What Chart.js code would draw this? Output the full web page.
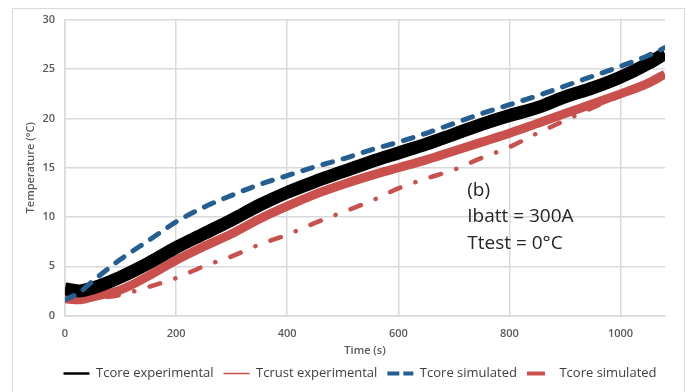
<!DOCTYPE html>
<html lang="en">
<head>
<meta charset="UTF-8">
<title>Core and crust temperature</title>
<script src="https://cdn.jsdelivr.net/npm/chart.js"></script>
<style>
  html, body { margin: 0; padding: 0; background: #fff; }
  #wrap { width: 695px; height: 392px; }
</style>
</head>
<body>
<div id="wrap"><canvas id="tempChart"></canvas></div>
<script>
// time samples (s)
const timeSec = [0, 25, 50, 100, 150, 200, 250, 300, 350, 400, 450, 500, 550, 600, 650, 700, 750, 800, 850, 900, 950, 1000, 1050, 1080];

// temperatures (°C)
const tcoreExp  = [2.7, 2.5, 2.8, 3.9, 5.3, 6.9, 8.3, 9.7, 11.2, 12.5, 13.6, 14.6, 15.6, 16.5, 17.4, 18.4, 19.4, 20.3, 21.1, 22.2, 23.1, 24.2, 25.6, 26.6];
const tcrustExp = [1.7, 1.6, 1.9, 2.6, 4.0, 5.6, 7.0, 8.3, 9.8, 11.1, 12.3, 13.3, 14.2, 15.0, 15.8, 16.7, 17.6, 18.5, 19.5, 20.5, 21.5, 22.5, 23.6, 24.5];
const tcoreSim  = [1.6, 2.3, 3.5, 5.7, 7.6, 9.5, 11.0, 12.2, 13.3, 14.2, 15.1, 15.9, 16.8, 17.6, 18.5, 19.5, 20.5, 21.4, 22.3, 23.3, 24.3, 25.3, 26.4, 27.2];
const tcrustSim = [1.5, 1.5, 1.7, 2.1, 2.9, 3.8, 5.0, 6.0, 7.2, 8.2, 9.4, 10.5, 11.6, 12.9, 13.9, 14.8, 16.0, 17.1, 18.5, 19.8, 21.1, 22.3, 23.5, 24.3];

const seriesNames = ['Tcore experimental', 'Tcrust experimental', 'Tcore simulated', 'Tcore simulated'];
const noteLines = ['(b)', 'Ibatt = 300A', 'Ttest = 0°C'];

const pts = vals => vals.map((v, i) => ({ x: timeSec[i], y: v }));

const FONT = "'Open Sans', 'Liberation Sans', sans-serif";
const blue = '#255e91';
const red = '#c9504c';

// legend swatches
const legendStyles = [
  { strokeStyle: '#000000', lineWidth: 2.5, lineDash: [] },
  { strokeStyle: red, lineWidth: 1.6, lineDash: [] },
  { strokeStyle: blue, lineWidth: 4, lineDash: [12, 4] },
  { strokeStyle: red, lineWidth: 4, lineDash: [18, 10] }
];

// white page with thin grey frame
const framePlugin = {
  id: 'frame',
  beforeDraw(chart) {
    const ctx = chart.ctx;
    ctx.save();
    ctx.fillStyle = '#ffffff';
    ctx.fillRect(0, 0, chart.width, chart.height);
    ctx.strokeStyle = '#d9d9d9';
    ctx.lineWidth = 1;
    ctx.strokeRect(12.5, 8.5, 672, 400);
    ctx.restore();
  }
};

// center the legend under the plot area rather than the whole canvas
const legendShift = {
  id: 'legendShift',
  afterLayout(chart) {
    const lg = chart.legend;
    if (!lg) return;
    const mid = (chart.chartArea.left + chart.chartArea.right) / 2 - 5;
    const dx = mid - (lg.left + lg.right) / 2;
    lg.left += dx;
    lg.right += dx;
  }
};

// test conditions text inside the plot
const notePlugin = {
  id: 'note',
  afterDatasetsDraw(chart) {
    const ctx = chart.ctx;
    const xs = chart.scales.x, ys = chart.scales.y;
    const x0 = xs.getPixelForValue(724);
    const yVals = [12.7, 10.0, 7.25];
    ctx.save();
    ctx.fillStyle = '#262626';
    ctx.font = '19px ' + FONT;
    ctx.textBaseline = 'middle';
    noteLines.forEach((t, i) => ctx.fillText(t, x0, ys.getPixelForValue(yVals[i])));
    ctx.restore();
  }
};

new Chart(document.getElementById('tempChart'), {
  type: 'line',
  data: {
    datasets: [
      { label: seriesNames[0], data: pts(tcoreExp), borderColor: '#000000', borderWidth: 13, order: 2 },
      { label: seriesNames[1], data: pts(tcrustExp), borderColor: red, borderWidth: 9, order: 3 },
      { label: seriesNames[2], data: pts(tcoreSim), borderColor: blue, borderWidth: 5, borderDash: [10, 11], borderCapStyle: 'round', order: 0 },
      { label: seriesNames[3], data: pts(tcrustSim), borderColor: red, borderWidth: 4.5, borderDash: [11, 16, 0.1, 16], borderCapStyle: 'round', order: 1 }
    ]
  },
  options: {
    responsive: true,
    maintainAspectRatio: false,
    animation: false,
    elements: {
      point: { radius: 0 },
      line: { tension: 0.4, cubicInterpolationMode: 'monotone', fill: false }
    },
    layout: { padding: { left: 20, right: 30, top: 20, bottom: 2 } },
    scales: {
      x: {
        type: 'linear',
        min: 0,
        max: 1080,
        ticks: {
          stepSize: 200,
          padding: 12,
          maxRotation: 0,
          color: '#595959',
          font: { family: FONT, size: 11, weight: '600' },
          callback: v => (v % 200 === 0 ? v : '')
        },
        grid: {
          color: c => (c.tick && c.tick.value % 200 === 0 ? '#d9d9d9' : 'rgba(0,0,0,0)'),
          lineWidth: 1.5,
          drawTicks: false
        },
        border: { display: true, color: '#d9d9d9', width: 1.5 },
        title: {
          display: true,
          text: 'Time (s)',
          color: '#595959',
          font: { family: FONT, size: 11, weight: '600' },
          padding: { top: 0, bottom: 0 }
        },
        afterFit: s => { s.height = 41.5; }
      },
      y: {
        min: 0,
        max: 30,
        ticks: {
          stepSize: 5,
          padding: 10,
          color: '#595959',
          font: { family: FONT, size: 11, weight: '600' }
        },
        grid: { color: '#d9d9d9', lineWidth: 1.5, drawTicks: false },
        border: { display: true, color: '#d9d9d9', width: 1.5 },
        title: {
          display: true,
          text: 'Temperature (°C)',
          color: '#595959',
          font: { family: FONT, size: 11, weight: '600' },
          padding: { top: 4, bottom: 4 }
        },
        afterFit: s => { s.width = 45; }
      }
    },
    plugins: {
      tooltip: { enabled: false },
      legend: {
        position: 'bottom',
        labels: {
          usePointStyle: true,
          pointStyleWidth: 26,
          padding: 10,
          color: '#404040',
          font: { family: FONT, size: 13 },
          generateLabels: chart => chart.data.datasets.map((ds, i) => ({
            text: ds.label,
            datasetIndex: i,
            pointStyle: 'line',
            fillStyle: legendStyles[i].strokeStyle,
            strokeStyle: legendStyles[i].strokeStyle,
            lineWidth: legendStyles[i].lineWidth,
            lineDash: legendStyles[i].lineDash,
            lineCap: 'butt',
            fontColor: '#404040',
            hidden: false
          }))
        }
      }
    }
  },
  plugins: [framePlugin, legendShift, notePlugin]
});
</script>
</body>
</html>
